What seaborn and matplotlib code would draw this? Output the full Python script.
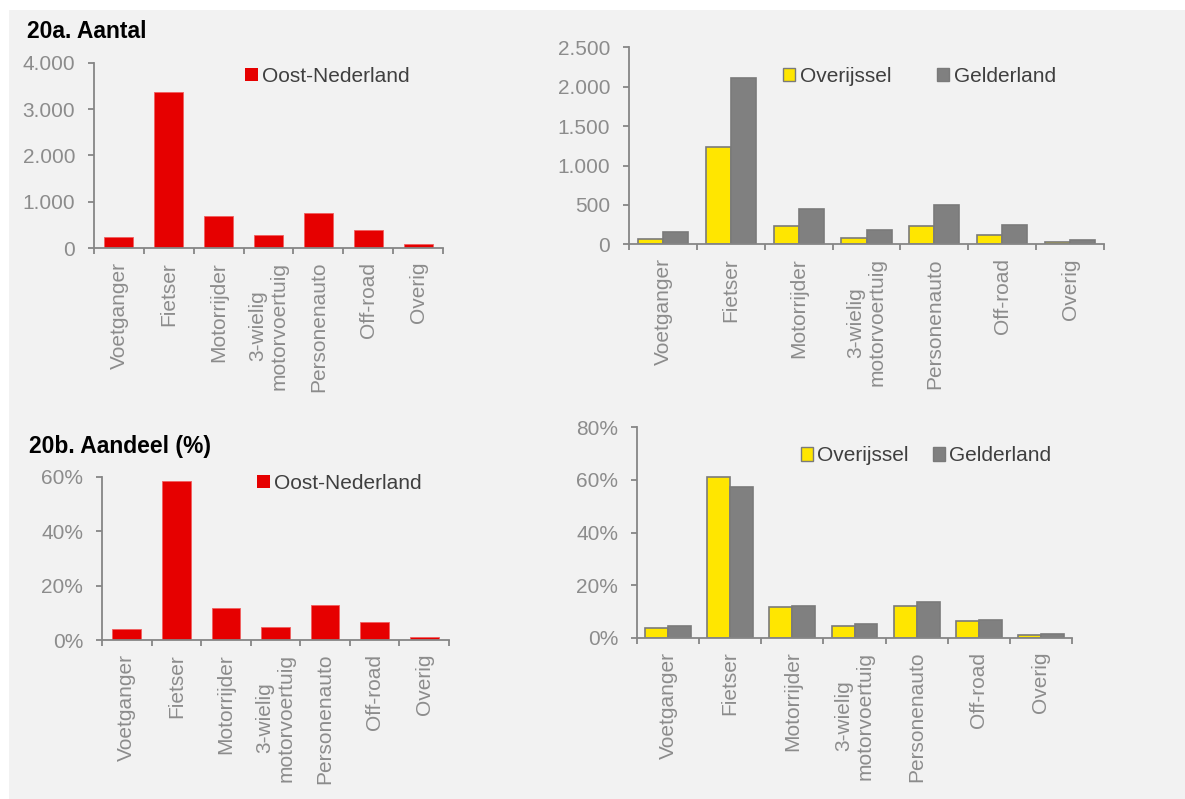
import numpy as np
import pandas as pd
import matplotlib
matplotlib.use("Agg")
import matplotlib.pyplot as plt
import seaborn as sns
from matplotlib.ticker import FuncFormatter
from matplotlib.patches import Rectangle, Patch

# ---------------- data ----------------
categories = ["Voetganger", "Fietser", "Motorrijder", "3-wielig\nmotorvoertuig",
              "Personenauto", "Off-road", "Overig"]
region_name = "Oost-Nederland"
provinces = ["Overijssel", "Gelderland"]

aantal_oost = [235, 3375, 700, 285, 755, 380, 85]
aantal_overijssel = [68, 1235, 237, 85, 237, 123, 25]
aantal_gelderland = [152, 2115, 444, 186, 499, 241, 55]

aandeel_oost = [3.9, 58.5, 11.9, 4.8, 12.9, 6.5, 1.2]
aandeel_overijssel = [3.7, 61.0, 11.7, 4.3, 12.1, 6.2, 1.0]
aandeel_gelderland = [4.3, 57.3, 12.2, 5.2, 13.5, 6.7, 1.5]

title_a = "20a. Aantal"
title_b = "20b. Aandeel (%)"

# ---------------- style ----------------
sns.set_style("white")
plt.rcParams["font.family"] = ["Liberation Sans", "DejaVu Sans"]

W, H = 1185, 799
fig = plt.figure(figsize=(W / 100, H / 100), dpi=100)
fig.patch.set_facecolor("white")
fig.patches.append(Rectangle((9 / W, 0), 1 - 9 / W, 1 - 10 / H, transform=fig.transFigure,
                             facecolor="#f2f2f2", edgecolor="none", zorder=-10))

RED = "#e60000"
YEL = "#ffe600"
GRY = "#808080"
AXC = "#868686"
TICKC = "#8c8c8c"
LEGC = "#3f3f3f"
FS = 15


def px_axes(left, right, y0, ytop):
    return fig.add_axes([left / W, 1 - y0 / H, (right - left) / W, (y0 - ytop) / H])


def style_axes(ax, ymax, ystep, fmt):
    ax.set_facecolor("none")
    for s in ["top", "right"]:
        ax.spines[s].set_visible(False)
    for s in ["left", "bottom"]:
        ax.spines[s].set_color(AXC)
        ax.spines[s].set_linewidth(1.3)
    ax.set_ylim(0, ymax)
    ax.set_yticks(np.arange(0, ymax + ystep / 2, ystep))
    ax.yaxis.set_major_formatter(FuncFormatter(fmt))
    ax.set_xlim(-0.5, len(categories) - 0.5)
    ax.set_xticks(range(len(categories)))
    ax.set_xticklabels(categories, rotation=90, ha="center", va="top",
                       multialignment="center")
    ax.set_xticks(np.arange(-0.5, len(categories), 1.0), minor=True)
    ax.tick_params(axis="x", which="major", bottom=True, length=0, pad=10,
                   labelsize=FS, labelcolor=TICKC)
    ax.tick_params(axis="x", which="minor", bottom=True, length=4.5, width=1.3,
                   color=AXC, direction="out")
    ax.tick_params(axis="y", which="major", left=True, length=4.5, width=1.3, color=AXC,
                   direction="out", pad=9, labelsize=FS, labelcolor=TICKC)
    ax.tick_params(axis="y", which="minor", left=False)
    ax.set_xlabel("")
    ax.set_ylabel("")


def fmt_thousands(v, pos):
    return f"{int(round(v)):,}".replace(",", ".")


def fmt_pct(v, pos):
    return f"{v:.0f}%"


def single(ax, values, ymax, ystep, fmt, leg_xy):
    sns.barplot(x=categories, y=values, order=categories, color=RED, width=0.58,
                edgecolor="#f06060", linewidth=0.6, ax=ax, saturation=1)
    style_axes(ax, ymax, ystep, fmt)
    handles = [Patch(facecolor=RED, edgecolor="none")]
    ax.legend(handles, [region_name], loc="center left", bbox_to_anchor=leg_xy,
              frameon=False, fontsize=FS, handlelength=0.6, handleheight=0.6,
              handletextpad=0.2, borderpad=0, borderaxespad=0, labelcolor=LEGC)


def grouped(ax, v1, v2, ymax, ystep, fmt, leg_xy, colsp):
    df = pd.DataFrame({
        "cat": categories * 2,
        "prov": [provinces[0]] * len(categories) + [provinces[1]] * len(categories),
        "val": list(v1) + list(v2),
    })
    sns.barplot(data=df, x="cat", y="val", hue="prov", order=categories, hue_order=provinces,
                palette={provinces[0]: YEL, provinces[1]: GRY}, width=0.74,
                edgecolor="#7a7a7a", linewidth=1.2, ax=ax, saturation=1)
    style_axes(ax, ymax, ystep, fmt)
    handles = [Patch(facecolor=YEL, edgecolor="#7a7a7a", linewidth=1),
               Patch(facecolor=GRY, edgecolor="#7a7a7a", linewidth=1)]
    ax.legend(handles, provinces, loc="center left", bbox_to_anchor=leg_xy, ncol=2,
              frameon=False, fontsize=FS, handlelength=0.6, handleheight=0.6,
              handletextpad=0.2, columnspacing=colsp, borderpad=0, borderaxespad=0,
              labelcolor=LEGC)


ax1 = px_axes(94, 443, 248, 62.7)
single(ax1, aantal_oost, 4000, 1000, fmt_thousands, (0.434, 0.928))

ax2 = px_axes(629, 1104, 244.3, 47.3)
grouped(ax2, aantal_overijssel, aantal_gelderland, 2500, 500, fmt_thousands, (0.324, 0.854), 2.2)

ax3 = px_axes(102, 449, 640, 476.7)
single(ax3, aandeel_oost, 60, 20, fmt_pct, (0.447, 0.961))

ax4 = px_axes(637, 1072, 637.7, 427.3)
grouped(ax4, aandeel_overijssel, aandeel_gelderland, 80, 20, fmt_pct, (0.376, 0.864), 1.15)

fig.text(27 / W, 1 - 31 / H, title_a, fontsize=16.5, fontweight="bold", color="black",
         ha="left", va="center")
fig.text(29 / W, 1 - 446 / H, title_b, fontsize=16.5, fontweight="bold", color="black",
         ha="left", va="center")

fig.savefig("out.png", dpi=100, facecolor=fig.get_facecolor())
